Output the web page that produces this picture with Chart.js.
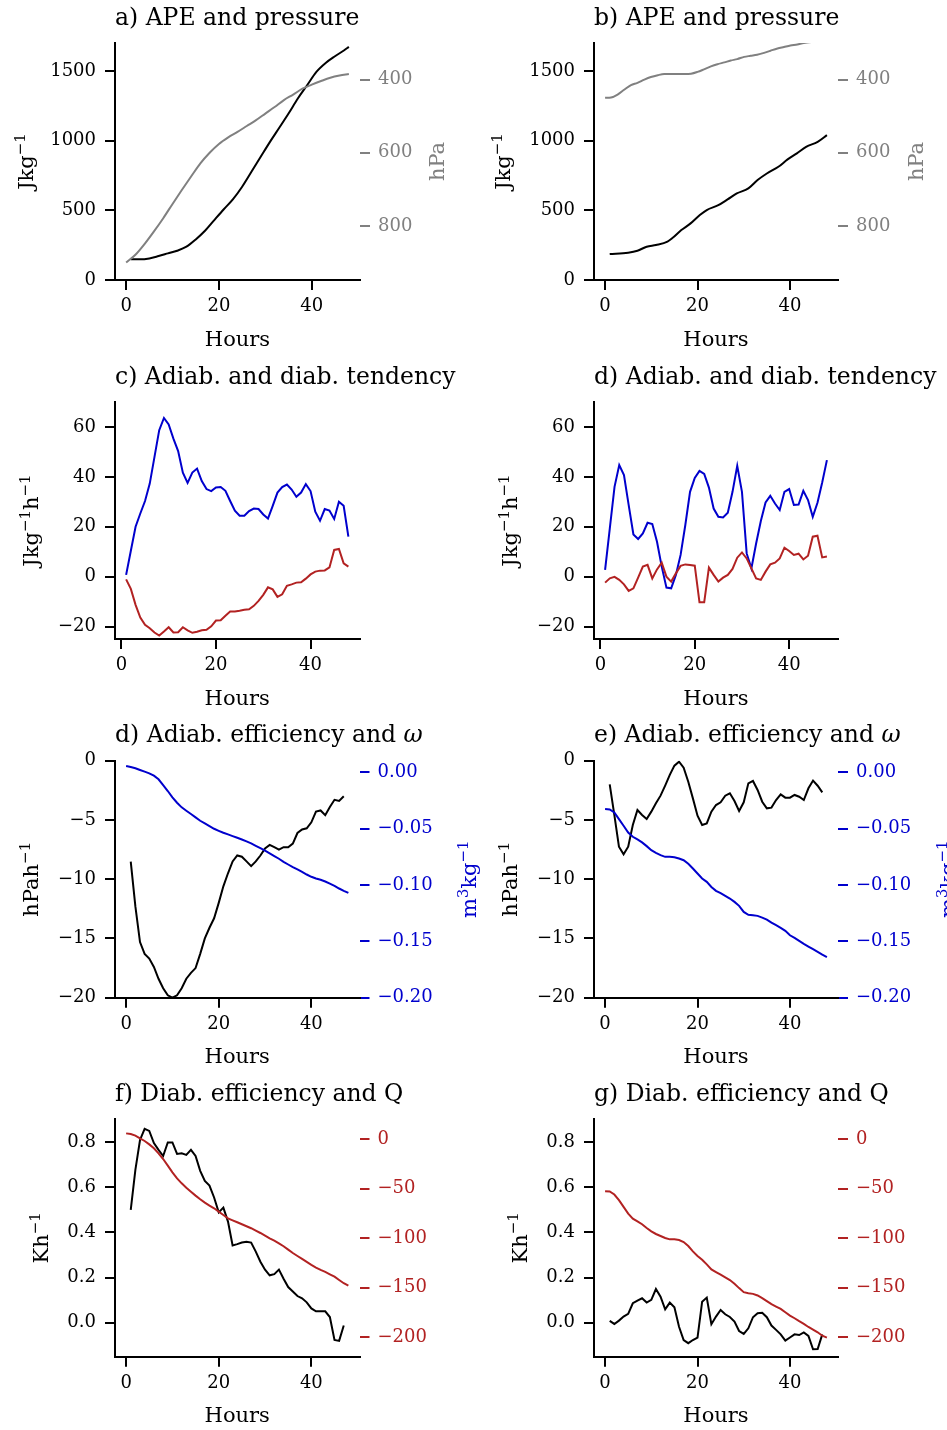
<!DOCTYPE html>
<html lang="en">
<head>
<meta charset="UTF-8">
<title>APE, tendencies and efficiencies</title>
<script src="https://cdn.jsdelivr.net/npm/chart.js"></script>
<style>
  html, body { margin: 0; padding: 0; background: #fff; }
  #fig { position: relative; width: 947px; height: 1430px; overflow: hidden; }
  #fig canvas { position: absolute; }
</style>
</head>
<body>
<div id="fig"></div>
<script>
// ---------- data ----------
const HOURS = [0,1,2,3,4,5,6,7,8,9,10,11,12,13,14,15,16,17,18,19,20,21,22,23,24,
               25,26,27,28,29,30,31,32,33,34,35,36,37,38,39,40,41,42,43,44,45,46,47,48];
const HOURS_1_48 = HOURS.slice(1);
const HOURS_1_47 = HOURS.slice(1, 48);

// a) APE (J/kg) and pressure (hPa)
const hoursApeA = [1,3,5,7,9,11,13,15,17,19,21,23,25,27,29,31,33,35,37,39,41,43,45,47,48];
const apeA = [148,148,155,172,191,210,239,291,353,430,506,578,669,776,884,991,1092,1194,1302,1397,1493,1557,1605,1648,1672];
const hoursPresA = [0,2,4,6,8,10,12,14,16,18,20,22,24,26,28,30,32,34,36,38,40,42,44,46,48];
const presA = [900,879,849,815,779,740,702,665,629,600,576,558,543,527,511,493,475,456,441,425,414,404,395,389,385];

// b) APE and pressure
const hoursApeB = [1,5,7,9,11,13.5,14.5,16.5,18.5,20.5,22,24.5,26.5,28.5,31,33,35,37.5,39.5,41.5,43.5,46,48];
const apeB = [186,196,210,239,251,275,299,358,406,466,502,537,578,621,657,717,764,812,865,908,955,991,1039];
const hoursPresB = [0,1.3,2.7,4.2,5.6,7,8.5,9.9,11.4,12.8,14.2,15.7,17.1,18.6,20,21.4,22.9,24.3,25.8,27.2,28.6,
                    30.1,31.5,32.9,34.4,35.8,37.3,38.7,40.1,41.6,43,45.5,48];
const presB = [450,449,441,427,415,409,400,393,388,385,385,385,385,384,379,372,364,358,353,348,344,
               338,335,332,327,321,315,311,307,304,300,296,292];

// c) adiabatic / diabatic tendency (J/kg/h), hours 1..48
const adiabC = [0.7,10.4,20,25.3,30.3,37.3,48,58.7,63.6,61,55.3,50.3,41.7,37.6,41.7,43.3,38.3,35.1,34.3,35.7,
                35.9,34.4,30.3,26.4,24.4,24.4,26.3,27.3,27.1,24.9,23.3,28.4,33.7,35.9,36.9,34.9,32,33.7,37.1,34.3,
                26,22.4,27.1,26.5,23.1,30,28.4,16];
const diabC = [-1.1,-4.9,-11.3,-16.4,-19.3,-20.7,-22.4,-23.6,-22,-20.3,-22.4,-22.3,-20.3,-21.5,-22.5,-22.1,-21.5,-21.3,-19.9,-17.6,
               -17.5,-15.7,-14,-14,-13.7,-13.3,-13.1,-11.7,-9.7,-7.3,-4.3,-5.1,-8.1,-7.1,-3.7,-3.1,-2.4,-2.3,-0.8,0.9,
               2,2.4,2.5,3.7,10.7,11.1,5.3,4];

// d) adiabatic / diabatic tendency, hours 1..48
const adiabD = [2.7,19.3,36,44.7,40.7,28.7,16.9,15.1,17.3,21.6,21.1,14,4,-4.4,-4.7,0.7,8.7,20.7,34,39.6,
                42.4,41.2,35.7,27.3,24,23.7,25.6,34,44.4,34,9.3,3.3,13.3,22.3,29.7,32.4,29.3,26.7,34,35.1,
                28.7,28.9,34.4,30.7,24,29.6,37.7,46.7];
const diabD = [-2.4,-0.7,-0.1,-1.3,-3.1,-5.7,-4.7,-0.4,4,4.7,-0.7,2.9,5.6,0,-2,1.3,4.3,4.9,4.7,4.4,
               -10.3,-10.3,3.6,0.7,-2,-0.4,0.7,3.1,7.6,9.7,7.3,3.3,-0.7,-1.3,2,4.9,5.6,7.3,11.6,10.3,
               8.7,9.2,6.9,8.4,16,16.4,7.7,8.1];

// d) adiabatic efficiency (hPa/h, hours 1..47) and omega (m3/kg, hours 0..48)
const effAdE1 = [-8.52,-12.3,-15.3,-16.3,-16.7,-17.4,-18.4,-19.2,-19.8,-20,-19.8,-19.2,-18.4,-17.9,-17.5,-16.3,-15,-14.1,-13.3,-12,
                 -10.6,-9.5,-8.5,-8.0,-8.1,-8.5,-8.9,-8.5,-8.0,-7.4,-7.1,-7.3,-7.5,-7.3,-7.3,-7.0,-6.1,-5.8,-5.7,-5.2,
                 -4.3,-4.2,-4.6,-3.9,-3.3,-3.4,-3.0];
const omegaE1 = [0.0056,0.0047,0.0036,0.0021,0.0006,-0.0009,-0.003,-0.0062,-0.0113,-0.0166,
                 -0.0222,-0.027,-0.0311,-0.0341,-0.037,-0.04,-0.043,-0.0453,-0.0477,-0.0501,
                 -0.0519,-0.0536,-0.0551,-0.0566,-0.0581,-0.0596,-0.0613,-0.0631,-0.0652,-0.0673,
                 -0.0696,-0.072,-0.0744,-0.0767,-0.0794,-0.0818,-0.0841,-0.0862,-0.0883,-0.0907,
                 -0.0927,-0.0942,-0.0954,-0.0969,-0.0987,-0.1007,-0.1031,-0.1052,-0.107];

// e) adiabatic efficiency and omega
const effAdE2 = [-2.0,-4.58,-7.26,-7.9,-7.26,-5.43,-4.16,-4.58,-4.92,-4.3,-3.6,-2.95,-2.1,-1.2,-0.42,-0.08,-0.59,-1.77,-3.18,-4.64,
                 -5.43,-5.29,-4.3,-3.74,-3.51,-2.95,-2.75,-3.4,-4.24,-3.51,-1.91,-1.71,-2.47,-3.46,-4.02,-3.96,-3.32,-2.84,-3.12,-3.12,
                 -2.89,-3.04,-3.32,-2.33,-1.68,-2.11,-2.67];
const omegaE2 = [-0.0326,-0.0329,-0.0356,-0.0415,-0.0474,-0.0534,-0.0572,-0.0596,-0.0622,-0.0655,
                 -0.0691,-0.0714,-0.0735,-0.075,-0.075,-0.0753,-0.0765,-0.078,-0.0812,-0.0854,
                 -0.0898,-0.0942,-0.0972,-0.1017,-0.1052,-0.1073,-0.1097,-0.112,-0.115,-0.1185,
                 -0.1239,-0.1265,-0.1268,-0.1274,-0.1289,-0.1307,-0.1334,-0.1357,-0.1381,-0.1407,
                 -0.1446,-0.147,-0.1496,-0.1523,-0.1547,-0.157,-0.1594,-0.1618,-0.1639];

// f) diabatic efficiency (K/h, hours 1..47) and Q (hours 0..48)
const effDiF = [0.5,0.677,0.81,0.859,0.85,0.796,0.766,0.739,0.799,0.799,0.748,0.751,0.744,0.766,0.739,0.673,0.628,0.608,0.555,0.489,
                0.51,0.448,0.342,0.348,0.355,0.359,0.355,0.315,0.27,0.235,0.21,0.215,0.235,0.195,0.158,0.138,0.118,0.108,0.09,0.063,
                0.05,0.05,0.05,0.025,-0.077,-0.081,-0.013];
const heatF = [5.7,5,3.4,0.7,-2,-5.4,-9.4,-14.5,-20.2,-26.9,-33.6,-39.7,-44.7,-49.1,-53.1,-57.1,-60.8,-64.2,-67.2,-69.9,
               -73.3,-76.6,-80,-82,-84,-86,-88,-90,-92.4,-94.8,-97.5,-100.2,-102.5,-105.2,-108.2,-111.6,-115,-118,-121,-124,
               -127,-129.7,-132.1,-134.1,-136.5,-138.8,-142.2,-145.5,-147.9];

// g) diabatic efficiency and Q
const effDiG = [0.0075,-0.0058,0.009,0.027,0.039,0.086,0.098,0.108,0.089,0.101,0.149,0.115,0.059,0.089,0.068,-0.018,-0.077,-0.091,-0.077,-0.066,
                0.093,0.111,-0.007,0.027,0.056,0.037,0.025,0.005,-0.037,-0.05,-0.025,0.024,0.042,0.044,0.024,-0.013,-0.032,-0.052,-0.08,-0.066,
                -0.052,-0.055,-0.043,-0.059,-0.118,-0.117,-0.052];
const heatG = [-52.6,-52.9,-56,-61.7,-68.5,-75.2,-80.3,-83,-86,-89.7,-93.1,-95.8,-97.8,-99.8,-101.2,-101.2,-101.9,-103.9,-107.9,-113.3,
               -118,-121.8,-126.5,-131.5,-134.2,-136.9,-139.6,-142.3,-146,-150.4,-154.5,-155.5,-156.2,-157.8,-160.5,-163.6,-166.6,-169,-171.3,-174.7,
               -178.1,-180.8,-183.8,-186.5,-189.6,-192.2,-195,-198.4,-200.3];

// tick labels
const hourTicks = [0, 20, 40];
const apeTicks = [0, 500, 1000, 1500];
const presTicks = [400, 600, 800];
const tendTicks = [-20, 0, 20, 40, 60];
const effAdTicks = [-20, -15, -10, -5, 0];
const omegaTicks = [-0.2, -0.15, -0.1, -0.05, 0];
const effDiTicks = [0, 0.2, 0.4, 0.6, 0.8];
const heatTicks = [-200, -150, -100, -50, 0];

// ---------- styling ----------
const BLACK = '#000000', GRAY = '#808080', BLUE = '#0000cd', RED = '#b22222';
const FONT = '"DejaVu Serif"';
const TICK_SIZE = 18, LABEL_SIZE = 21, TITLE_SIZE = 23.5;

const COLS = [{ x: 0, w: 490 }, { x: 473, w: 480 }];
const ROWS = [{ y: 0, h: 358 }, { y: 358, h: 359 }, { y: 717, h: 358 }, { y: 1075, h: 355 }];
const Y_W = 70, Y2_W = 100, X_H = 40;

function pts(xs, ys) { return ys.map((y, i) => ({ x: xs[i], y: y })); }
function fmt(v, dec) {
  const s = Math.abs(v).toFixed(dec);
  return (v < 0 && Number(s) !== 0 ? '\u2212' : '') + s;
}

const panels = [
  { col: 0, row: 0, area: [115, 43, 360, 280], title: 'a) APE and pressure', x: [-2.4, 50.4],
    y: { min: 0, max: 1700, ticks: apeTicks, dec: 0, label: 'Jkg^{\u22121}', labelX: 33 },
    y2: { min: 300, max: 948, reverse: true, ticks: presTicks, dec: 0, color: GRAY, label: 'hPa', labelX: 444 },
    series: [
      { xs: hoursPresA, ys: presA, color: GRAY, axis: 'y2', smooth: true },
      { xs: hoursApeA, ys: apeA, color: BLACK, axis: 'y', smooth: true } ] },
  { col: 1, row: 0, area: [594, 43, 838, 280], title: 'b) APE and pressure', x: [-2.4, 50.4],
    y: { min: 0, max: 1700, ticks: apeTicks, dec: 0, label: 'Jkg^{\u22121}', labelX: 510 },
    y2: { min: 300, max: 948, reverse: true, ticks: presTicks, dec: 0, color: GRAY, label: 'hPa', labelX: 923 },
    series: [
      { xs: hoursPresB, ys: presB, color: GRAY, axis: 'y2', smooth: true },
      { xs: hoursApeB, ys: apeB, color: BLACK, axis: 'y', smooth: true } ] },
  { col: 0, row: 1, area: [115, 402, 359.5, 639], title: 'c) Adiab. and diab. tendency', x: [-1.35, 50.35],
    y: { min: -25, max: 70, ticks: tendTicks, dec: 0, label: 'Jkg^{\u22121}h^{\u22121}', labelX: 38 },
    series: [
      { xs: HOURS_1_48, ys: diabC, color: RED, axis: 'y' },
      { xs: HOURS_1_48, ys: adiabC, color: BLUE, axis: 'y' } ] },
  { col: 1, row: 1, area: [594, 402, 838, 639], title: 'd) Adiab. and diab. tendency', x: [-1.35, 50.35],
    y: { min: -25, max: 70, ticks: tendTicks, dec: 0, label: 'Jkg^{\u22121}h^{\u22121}', labelX: 517 },
    series: [
      { xs: HOURS_1_48, ys: diabD, color: RED, axis: 'y' },
      { xs: HOURS_1_48, ys: adiabD, color: BLUE, axis: 'y' } ] },
  { col: 0, row: 2, area: [115, 760.7, 359.5, 997.7], title: 'd) Adiab. efficiency and *\u03c9*', x: [-2.4, 50.4],
    y: { min: -20, max: 0, ticks: effAdTicks, dec: 0, label: 'hPah^{\u22121}', labelX: 38 },
    y2: { min: -0.2, max: 0.0103, ticks: omegaTicks, dec: 2, color: BLUE, label: 'm^{3}kg^{\u22121}', labelX: 476 },
    series: [
      { xs: HOURS, ys: omegaE1, color: BLUE, axis: 'y2' },
      { xs: HOURS_1_47, ys: effAdE1, color: BLACK, axis: 'y' } ] },
  { col: 1, row: 2, area: [594, 760.7, 838, 997.7], title: 'e) Adiab. efficiency and *\u03c9*', x: [-2.4, 50.4],
    y: { min: -20, max: 0, ticks: effAdTicks, dec: 0, label: 'hPah^{\u22121}', labelX: 517 },
    y2: { min: -0.2, max: 0.0103, ticks: omegaTicks, dec: 2, color: BLUE, label: 'm^{3}kg^{\u22121}', labelX: 955 },
    series: [
      { xs: HOURS, ys: omegaE2, color: BLUE, axis: 'y2' },
      { xs: HOURS_1_47, ys: effAdE2, color: BLACK, axis: 'y' } ] },
  { col: 0, row: 3, area: [115, 1119, 359.5, 1356.7], title: 'f) Diab. efficiency and Q', x: [-2.4, 50.4],
    y: { min: -0.151, max: 0.903, ticks: effDiTicks, dec: 1, label: 'Kh^{\u22121}', labelX: 48 },
    y2: { min: -219.6, max: 20.2, ticks: heatTicks, dec: 0, color: RED },
    series: [
      { xs: HOURS, ys: heatF, color: RED, axis: 'y2' },
      { xs: HOURS_1_47, ys: effDiF, color: BLACK, axis: 'y' } ] },
  { col: 1, row: 3, area: [594, 1119, 838, 1356.7], title: 'g) Diab. efficiency and Q', x: [-2.4, 50.4],
    y: { min: -0.151, max: 0.903, ticks: effDiTicks, dec: 1, label: 'Kh^{\u22121}', labelX: 526.5 },
    y2: { min: -219.6, max: 20.2, ticks: heatTicks, dec: 0, color: RED },
    series: [
      { xs: HOURS, ys: heatG, color: RED, axis: 'y2' },
      { xs: HOURS_1_47, ys: effDiG, color: BLACK, axis: 'y' } ] }
];

// rich text: ^{..} superscript, *..* italic
function drawRich(ctx, text, size) {
  const segs = [];
  const re = /\^\{([^}]*)\}|\*([^*]*)\*|([^^*]+)/g;
  let m;
  while ((m = re.exec(text))) {
    if (m[1] !== undefined) segs.push({ t: m[1], sup: true });
    else if (m[2] !== undefined) segs.push({ t: m[2], it: true });
    else segs.push({ t: m[3] });
  }
  const fontOf = s => (s.it ? 'italic ' : '') + (s.sup ? Math.round(size * 0.7) : size) + 'px ' + FONT;
  let w = 0;
  segs.forEach(s => { ctx.font = fontOf(s); s.w = ctx.measureText(s.t).width; w += s.w; });
  return { segs, w, draw(x0) {
    let x = x0;
    ctx.textAlign = 'left';
    segs.forEach(s => { ctx.font = fontOf(s); ctx.fillText(s.t, x, s.sup ? -size * 0.4 : 0); x += s.w; });
  } };
}

const panelText = {
  id: 'panelText',
  afterDraw(chart, args, o) {
    const ctx = chart.ctx, ca = chart.chartArea;
    const midY = (ca.top + ca.bottom) / 2;
    ctx.save();
    ctx.textBaseline = 'alphabetic';
    ctx.fillStyle = BLACK;
    const t = drawRich(ctx, o.title, TITLE_SIZE);
    ctx.save(); ctx.translate(ca.left, ca.top - 18.5); t.draw(0); ctx.restore();
    const h = drawRich(ctx, 'Hours', LABEL_SIZE);
    ctx.save(); ctx.translate((ca.left + ca.right) / 2, ca.bottom + 65.5); h.draw(-h.w / 2); ctx.restore();
    const vert = (label, x, color) => {
      ctx.save();
      ctx.fillStyle = color;
      ctx.translate(x, midY);
      ctx.rotate(-Math.PI / 2);
      const r = drawRich(ctx, label, LABEL_SIZE);
      r.draw(-r.w / 2);
      ctx.restore();
    };
    vert(o.ylabel, o.ylabelX, BLACK);
    if (o.y2label) vert(o.y2label, o.y2labelX, o.y2color);
    ctx.restore();
  }
};

function tickAxis(ticks) {
  return s => { s.ticks = ticks.map(v => ({ value: v })); };
}

const fig = document.getElementById('fig');
panels.forEach(p => {
  const cell = { x: COLS[p.col].x, w: COLS[p.col].w, y: ROWS[p.row].y, h: ROWS[p.row].h };
  const cv = document.createElement('canvas');
  cv.width = cell.w; cv.height = cell.h;
  cv.style.left = cell.x + 'px'; cv.style.top = cell.y + 'px';
  cv.style.width = cell.w + 'px'; cv.style.height = cell.h + 'px';
  fig.appendChild(cv);

  const [L, T, R, B] = p.area;
  const padding = {
    left: L - cell.x - Y_W,
    top: T - cell.y,
    right: cell.w - (R - cell.x) - (p.y2 ? Y2_W : 0),
    bottom: cell.h - (B - cell.y) - X_H
  };

  const scales = {
    x: {
      type: 'linear', position: 'bottom', min: p.x[0], max: p.x[1],
      afterBuildTicks: tickAxis(hourTicks),
      afterFit: s => { s.height = X_H; },
      grid: { display: true, drawOnChartArea: false, drawTicks: true, tickLength: 10, lineWidth: 2, color: BLACK },
      border: { display: true, width: 2, color: BLACK },
      ticks: { color: BLACK, font: { family: FONT, size: TICK_SIZE }, padding: 6, maxRotation: 0, autoSkip: false,
               callback: v => fmt(v, 0) }
    },
    y: {
      type: 'linear', position: 'left', min: p.y.min, max: p.y.max,
      afterBuildTicks: tickAxis(p.y.ticks),
      afterFit: s => { s.width = Y_W; },
      grid: { display: true, drawOnChartArea: false, drawTicks: true, tickLength: 10, lineWidth: 2, color: BLACK },
      border: { display: true, width: 2, color: BLACK },
      ticks: { color: BLACK, font: { family: FONT, size: TICK_SIZE }, padding: 9, autoSkip: false,
               callback: v => fmt(v, p.y.dec) }
    }
  };
  if (p.y2) {
    scales.y2 = {
      type: 'linear', position: 'right', min: p.y2.min, max: p.y2.max, reverse: !!p.y2.reverse,
      afterBuildTicks: tickAxis(p.y2.ticks),
      afterFit: s => { s.width = Y2_W; },
      grid: { display: true, drawOnChartArea: false, drawTicks: true, tickLength: 10, lineWidth: 2, color: p.y2.color },
      border: { display: false },
      ticks: { color: p.y2.color, font: { family: FONT, size: TICK_SIZE }, padding: 8, autoSkip: false,
               callback: v => fmt(v, p.y2.dec) }
    };
  }

  new Chart(cv, {
    type: 'line',
    data: {
      datasets: p.series.map(s => ({
        data: pts(s.xs, s.ys),
        yAxisID: s.axis,
        borderColor: s.color,
        borderWidth: 2,
        pointRadius: 0,
        fill: false,
        tension: s.smooth ? 0.4 : 0,
        cubicInterpolationMode: s.smooth ? 'monotone' : 'default'
      }))
    },
    options: {
      responsive: false,
      animation: false,
      devicePixelRatio: 1,
      layout: { padding },
      events: [],
      plugins: {
        legend: { display: false },
        tooltip: { enabled: false },
        title: { display: false },
        panelText: {
          title: p.title,
          ylabel: p.y.label, ylabelX: p.y.labelX - cell.x,
          y2label: p.y2 && p.y2.label, y2labelX: p.y2 && p.y2.labelX - cell.x, y2color: p.y2 && p.y2.color
        }
      },
      scales
    },
    plugins: [panelText]
  });
});
</script>
</body>
</html>
